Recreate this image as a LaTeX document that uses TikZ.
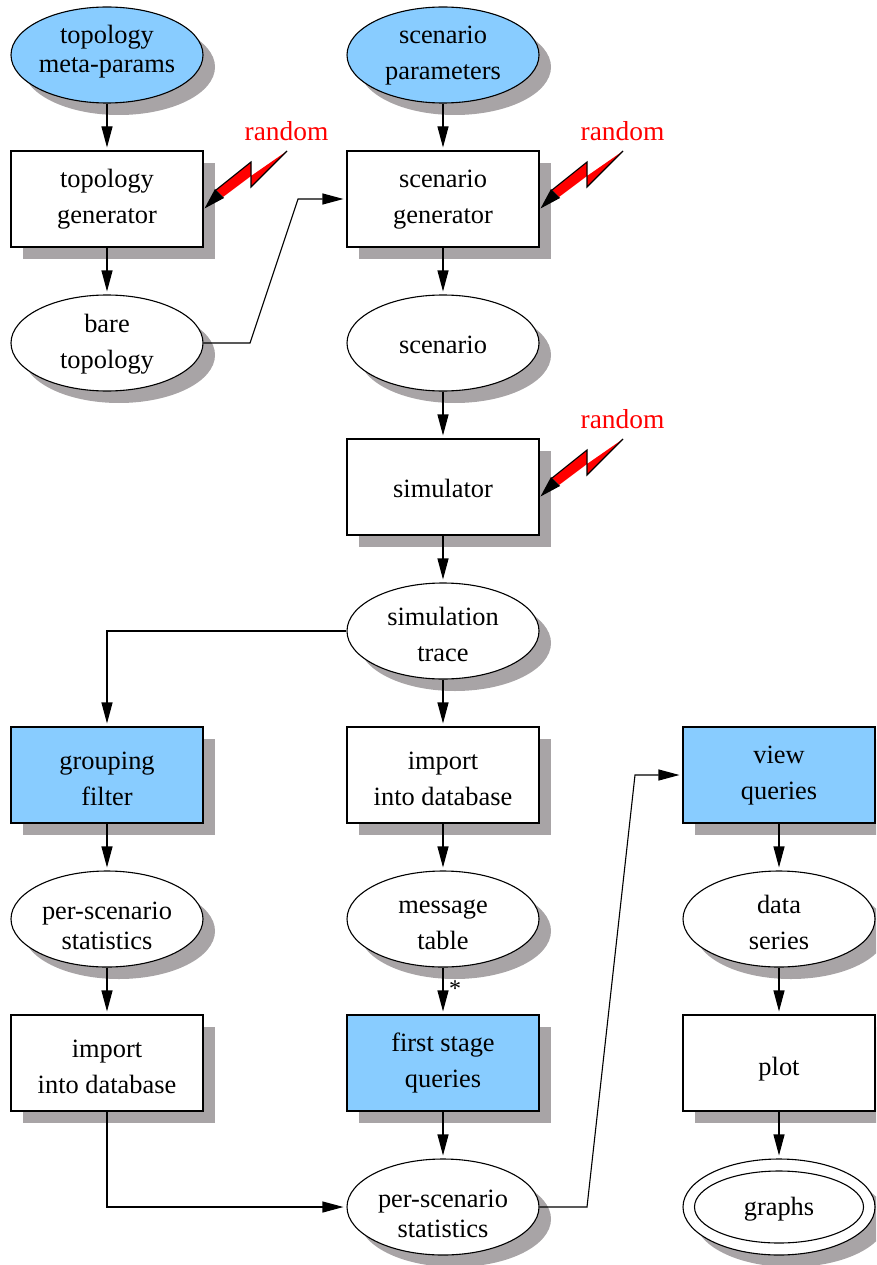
\documentclass[tikz,border=0pt]{standalone}
\usepackage{fontspec}
\setmainfont{Liberation Serif}
\usetikzlibrary{shapes.geometric,shadows,arrows.meta}
\definecolor{skyblue}{HTML}{88CCFF}
\definecolor{shadowgray}{HTML}{A8A4A6}
\newcommand\placed[2]{\rule{0pt}{\dimexpr 14pt+#1pt*2\relax}#2\rule[-14pt]{0pt}{14pt}}
\tikzset{
  basebox/.style={draw=black,line width=1.1pt,inner sep=-12pt,align=center,fill=white,
    minimum width=192pt,minimum height=96pt,
    drop shadow={shadow xshift=12pt,shadow yshift=-12pt,fill=shadowgray,opacity=1},
    font=\fontsize{26.4}{36}\selectfont},
  procbox/.style={basebox,rectangle},
  databox/.style={basebox,ellipse},
  hl/.style={fill=skyblue},
  tight/.style={font=\fontsize{26.4}{28.5}\selectfont},
  mid/.style={font=\fontsize{26.4}{30}\selectfont},
  flow/.style={draw=black,line width=1.1pt,-{Triangle[length=21pt,width=11pt]},shorten >=3pt},
  randlabel/.style={text=red,font=\fontsize{27.4}{28}\selectfont,inner sep=0pt},
  bolt/.style={fill=red,draw=none},
  boltline/.style={draw=black,line width=1.1pt,line join=miter},
}
\begin{document}
\begin{tikzpicture}[x=1pt,y=-1pt]
\useasboundingbox (0,0) rectangle (876,1265);
\clip (0,0) rectangle (876,1265);
% column 1
\node[databox,hl,tight] (meta) at (107,55) {\placed{3}{topology\\meta-params}};
\node[procbox] (tgen) at (107,199) {\placed{7}{topology\\generator}};
\node[databox] (bare) at (107,343) {\placed{7}{bare\\topology}};
\node[procbox,hl] (filter) at (107,775) {\placed{12.5}{grouping\\filter}};
\node[databox,mid] (stats1) at (107,919) {\placed{15.5}{per-scenario\\statistics}};
\node[procbox] (import1) at (107,1063) {\placed{12.5}{import\\into database}};
% column 2
\node[databox,hl] (params) at (443,55) {\placed{7}{scenario\\parameters}};
\node[procbox] (sgen) at (443,199) {\placed{7}{scenario\\generator}};
\node[databox] (scen) at (443,343) {\placed{10.5}{scenario}};
\node[procbox] (sim) at (443,487) {\placed{10.5}{simulator}};
\node[databox] (trace) at (443,631) {\placed{12.5}{simulation\\trace}};
\node[procbox] (import2) at (443,775) {\placed{12.5}{import\\into database}};
\node[databox] (msg) at (443,919) {\placed{12.5}{message\\table}};
\node[procbox,hl] (first) at (443,1063) {\placed{6}{first stage\\queries}};
\node[databox,mid] (stats2) at (443,1207) {\placed{15.5}{per-scenario\\statistics}};
% column 3
\node[procbox,hl] (view) at (779,775) {\placed{6}{view\\queries}};
\node[databox] (series) at (779,919) {\placed{12.5}{data\\series}};
\node[procbox] (plot) at (779,1063) {\placed{12}{plot}};
\node[databox] (graphs) at (779,1207) {};
\node[ellipse,draw=black,line width=1.1pt,inner sep=-12pt,minimum width=169pt,minimum height=72pt,font=\fontsize{26.4}{28}\selectfont] (graphsin) at (779,1207) {\placed{8}{graphs}};
% free bends
\coordinate (b1) at (250,343);
\coordinate (b2) at (298,199);
\coordinate (b3) at (587,1207);
\coordinate (b4) at (635,775);
% connectors
\draw[flow] (meta) -- (tgen);
\draw[flow] (tgen) -- (bare);
\draw[flow] (params) -- (sgen);
\draw[flow] (sgen) -- (scen);
\draw[flow] (scen) -- (sim);
\draw[flow] (sim) -- (trace);
\draw[flow] (trace) -- (import2);
\draw[flow] (import2) -- (msg);
\draw[flow] (msg) -- (first) node[pos=.38,anchor=west,inner sep=0pt,xshift=5.5pt,yshift=-3pt,font=\fontsize{24}{24}\selectfont] (star) {*};
\draw[flow] (first) -- (stats2);
\draw[flow] (filter) -- (stats1);
\draw[flow] (stats1) -- (import1);
\draw[flow] (view) -- (series);
\draw[flow] (series) -- (plot);
\draw[flow] (plot) -- (graphs);
\draw[flow] (bare.east) -- (b1) -- (b2) -- (sgen.west);
\draw[flow] (trace.west) -| (filter.north);
\draw[flow] (import1.south) |- (stats2.west);
\draw[flow] (stats2.east) -- (b3) -- (b4) -- (view.west);
% random bolts
\foreach \dx/\dy/\nm in {0/0/ra,336/0/rb,336/288/rc}{
  \begin{scope}[shift={(\dx,\dy)}]
    \node[randlabel] (\nm) at (286.5,131) {random};
    \fill[bolt] (287,151) -- (251,187) -- (251,162) -- (216,190) -- (223,197) -- (251,176) -- cycle;
    \draw[boltline] (287,151) -- (251,187) -- (251,162) -- (216,190);
    \fill[black] (204.5,208.5) -- (215,189) -- (224,198) -- cycle;
  \end{scope}
}
\end{tikzpicture}
\end{document}
